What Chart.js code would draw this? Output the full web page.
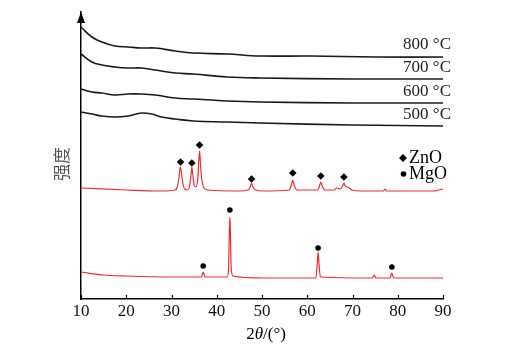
<!DOCTYPE html>
<html>
<head>
<meta charset="utf-8">
<script src="https://cdn.jsdelivr.net/npm/chart.js@4.4.0/dist/chart.umd.min.js"></script>
<style>
  html, body { margin: 0; padding: 0; background: #fff; }
</style>
</head>
<body>
<canvas id="xrdChart" width="506" height="357"></canvas>
<script>
// 2θ (deg) and intensity (a.u.)
const t800X = [10, 12.4, 14.6, 17.5, 20.4, 23.4, 26.4, 30.8, 34.8, 42.3, 49.6, 60.6, 75, 90];
const t800Y = [272, 262, 257, 253, 252, 251, 251, 248, 246, 245, 243, 243, 242, 242];

const t700X = [10, 12.4, 14.6, 17.5, 20.4, 23.4, 26.4, 30.8, 34.8, 42.3, 49.6, 70, 90];
const t700Y = [245, 237, 234, 232, 231, 231, 229, 226, 225, 222, 221, 220, 220];

const t600X = [10, 12.4, 14.6, 17.5, 20.4, 23.4, 26.4, 30.8, 34.8, 42.3, 49.6, 70, 90];
const t600Y = [210, 207, 206, 204, 205, 205, 204, 201, 200, 198, 197, 196, 196];

const t500X = [10, 12.4, 14.6, 17.5, 20.4, 23.4, 25.6, 27.8, 30.8, 34.8, 42.3, 49.6, 70, 90];
const t500Y = [187, 185, 183, 182, 183, 186, 185, 182, 180, 178, 177, 176, 174, 173];

const znoX = [10, 20, 27.5, 30.8, 31.3, 31.6, 31.8, 32.0, 32.2, 32.5,
              32.9, 33.6, 34.0, 34.3, 34.5, 34.7, 35.0, 35.4, 35.8, 36.0,
              36.2, 36.4, 36.7, 37.2, 38, 45, 46.9, 47.4, 47.7, 48.0,
              48.6, 50, 56.0, 56.5, 56.8, 57.1, 57.7, 62.3, 62.7, 63.0,
              63.3, 63.9, 66.0, 66.5, 67.3, 67.8, 68.1, 68.5, 69.0, 69.3,
              69.9, 72, 76.8, 77.2, 77.6, 88, 89, 90];
const znoY = [111, 109, 108, 109, 112, 120, 128, 132, 126, 116,
              110, 109, 113, 124, 132, 125, 114, 112, 120, 135,
              148, 135, 119, 111, 109, 108, 109, 112, 116, 112,
              109, 108, 109, 114, 119, 114, 109, 109, 113, 117,
              113, 109, 109, 111, 110, 113, 116, 112, 112, 111,
              109, 108, 108, 110, 108, 108, 109, 110];

const mgoX = [10, 15, 20, 30, 36.6, 37.0, 37.4, 42.3, 42.6, 42.8,
              42.9, 43.0, 43.2, 43.6, 50, 61.9, 62.2, 62.4, 62.6, 62.9,
              74.4, 74.8, 75.2, 78.3, 78.7, 79.1, 90];
const mgoY = [27, 24, 23, 22, 22, 27, 22, 22, 30, 70,
              82, 70, 30, 23, 21, 21, 35, 47, 35, 22,
              21, 24, 21, 21, 26, 21, 21];

// peak markers
const znoMarkX = [32.0, 34.5, 36.2, 47.7, 56.8, 63.0, 68.1];
const znoMarkY = [137, 136, 154, 120, 126, 123, 122];
const mgoMarkX = [37.0, 42.9, 62.4, 78.7];
const mgoMarkY = [33, 89, 51, 32];

const tempLabels = ['800 °C', '700 °C', '600 °C', '500 °C'];
const xTicks = [10, 20, 30, 40, 50, 60, 70, 80, 90];

const pts = (xs, ys) => xs.map((x, i) => ({ x: x, y: ys[i] }));

function curve(xs, ys, color, width, smooth) {
  const ds = {
    data: pts(xs, ys),
    borderColor: color,
    borderWidth: width,
    pointRadius: 0,
    fill: false
  };
  if (smooth) ds.tension = 0.4;
  else ds.cubicInterpolationMode = 'monotone';
  return ds;
}

function markers(xs, ys, style, r) {
  return {
    data: pts(xs, ys),
    showLine: false,
    pointStyle: style,
    pointRadius: r,
    pointBackgroundColor: '#000',
    pointBorderColor: '#000',
    pointBorderWidth: 0
  };
}

const serif = '"Liberation Serif", "Times New Roman", serif';

// arrow, inner ticks, labels, legend, axis titles
const decorations = {
  id: 'decorations',
  afterDraw(chart) {
    const ctx = chart.ctx;
    const xs = chart.scales.x;
    const ys = chart.scales.y;
    const area = chart.chartArea;
    ctx.save();

    // arrow on y axis
    ctx.fillStyle = '#000';
    ctx.beginPath();
    ctx.moveTo(area.left, area.top);
    ctx.lineTo(area.left - 4, area.top + 11);
    ctx.lineTo(area.left + 4, area.top + 11);
    ctx.closePath();
    ctx.fill();

    // inward ticks
    ctx.strokeStyle = '#000';
    ctx.lineWidth = 1.2;
    xTicks.forEach(v => {
      const px = Math.round(xs.getPixelForValue(v)) + 0.5;
      ctx.beginPath();
      ctx.moveTo(px, area.bottom);
      ctx.lineTo(px, area.bottom - 4);
      ctx.stroke();
    });

    // temperature labels
    const labelY = [254, 231, 207, 184];
    ctx.font = '17px ' + serif;
    ctx.fillStyle = '#222';
    ctx.textAlign = 'right';
    ctx.textBaseline = 'middle';
    tempLabels.forEach((t, i) => {
      ctx.fillText(t, 451, ys.getPixelForValue(labelY[i]));
    });

    // legend
    ctx.font = '18px ' + serif;
    ctx.textAlign = 'left';
    ctx.fillStyle = '#000';
    ctx.beginPath();
    ctx.moveTo(403, 154); ctx.lineTo(407, 158); ctx.lineTo(403, 162); ctx.lineTo(399, 158);
    ctx.closePath();
    ctx.fill();
    ctx.fillText('ZnO', 409, 158);
    ctx.beginPath();
    ctx.arc(403.5, 174, 2.8, 0, Math.PI * 2);
    ctx.fill();
    ctx.fillText('MgO', 409, 174);

    // x title: 2θ/(°)
    const parts = [['2', ''], ['θ', 'italic '], ['/(°)', '']];
    let total = 0;
    parts.forEach(p => { ctx.font = p[1] + '17px ' + serif; total += ctx.measureText(p[0]).width; });
    let x = (area.left + area.right) / 2 - total / 2 + 4;
    ctx.textBaseline = 'alphabetic';
    parts.forEach(p => {
      ctx.font = p[1] + '17px ' + serif;
      ctx.fillText(p[0], x, 339);
      x += ctx.measureText(p[0]).width;
    });

    // y title
    ctx.translate(62, 164);
    ctx.rotate(-Math.PI / 2);
    ctx.font = '17px "Noto Sans CJK SC", sans-serif';
    ctx.fillStyle = '#555';
    ctx.textAlign = 'center';
    ctx.textBaseline = 'middle';
    ctx.fillText('强度', 0, 0);

    ctx.restore();
  }
};

new Chart(document.getElementById('xrdChart').getContext('2d'), {
  type: 'line',
  data: {
    datasets: [
      curve(t800X, t800Y, '#1a1a1a', 1.6, true),
      curve(t700X, t700Y, '#1a1a1a', 1.6, true),
      curve(t600X, t600Y, '#1a1a1a', 1.6, true),
      curve(t500X, t500Y, '#1a1a1a', 1.6, true),
      curve(znoX, znoY, 'rgb(232, 44, 52)', 1.2, false),
      curve(mgoX, mgoY, 'rgb(232, 44, 52)', 1.2, false),
      markers(znoMarkX, znoMarkY, 'rectRot', 3.8),
      markers(mgoMarkX, mgoMarkY, 'circle', 2.8)
    ]
  },
  options: {
    responsive: false,
    animation: false,
    layout: { padding: { left: 0, right: 63, top: 12, bottom: 0 } },
    plugins: { legend: { display: false }, tooltip: { enabled: false } },
    scales: {
      x: {
        type: 'linear',
        min: 10,
        max: 90,
        afterFit: s => { s.height = 58; },
        afterBuildTicks: s => { s.ticks = xTicks.map(v => ({ value: v })); },
        grid: { display: false, drawTicks: false },
        border: { display: true, color: '#000', width: 1.5 },
        ticks: { padding: 2, color: '#111', font: { family: serif, size: 17 } }
      },
      y: {
        min: 0,
        max: 287,
        afterFit: s => { s.width = 81; },
        grid: { display: false, drawTicks: false },
        border: { display: true, color: '#000', width: 1.5 },
        ticks: { display: false }
      }
    }
  },
  plugins: [decorations]
});
</script>
</body>
</html>
